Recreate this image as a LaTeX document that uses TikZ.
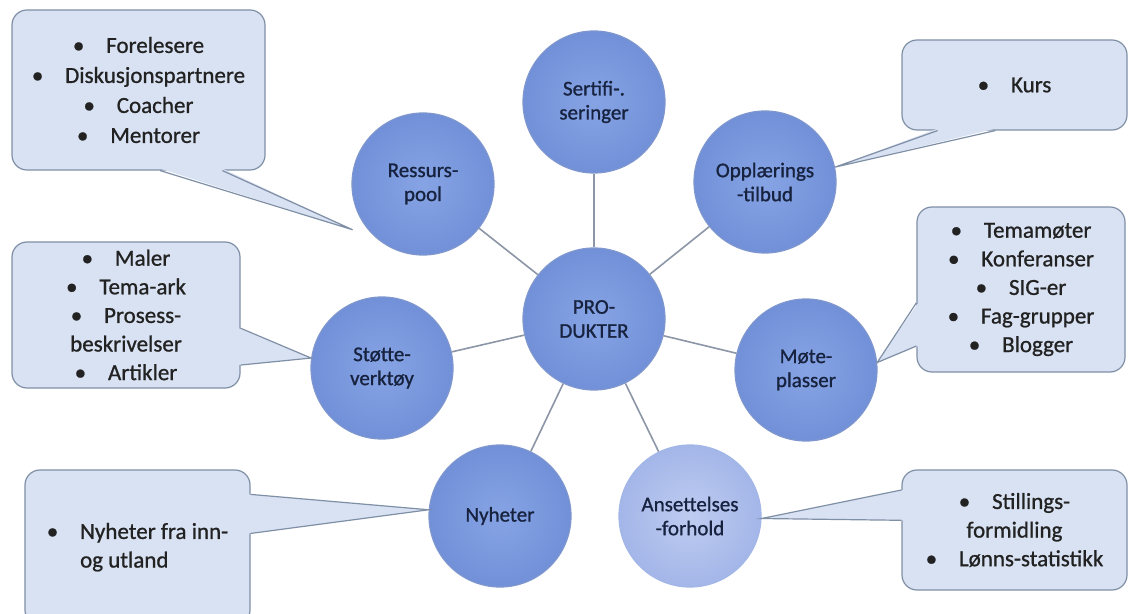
\documentclass[tikz,border=0pt]{standalone}
\usepackage{fontspec}
\setmainfont{Carlito}[FakeBold=0.9]
\usetikzlibrary{calc}
\definecolor{ballin}{HTML}{86A4E4}
\definecolor{ballout}{HTML}{7190D8}
\definecolor{ballline}{HTML}{7F97CE}
\definecolor{paleout}{HTML}{A3B6E8}
\definecolor{palein}{HTML}{BFCCF1}
\definecolor{bubble}{HTML}{D9E2F3}
\definecolor{bubbleline}{HTML}{7F8FA6}
\definecolor{spoke}{HTML}{8C96A6}
\definecolor{navy}{HTML}{17223F}
\definecolor{bodytext}{HTML}{222222}
\newcommand{\bul}{\textbullet\hspace{0.95em}}
\begin{document}
\begin{tikzpicture}[x=0.5pt, y=-0.5pt,
    topic/.style={circle, minimum size=71pt, inner sep=0pt, align=center,
      font=\fontsize{10.5}{12}\selectfont, text=navy, draw=ballline,
      line width=0.6pt, inner color=ballin, outer color=ballout},
    paletopic/.style={topic, draw=paleout, inner color=palein, outer color=paleout},
    bubblebox/.style={rectangle, rounded corners=7.5pt, inner sep=0pt, align=center,
      fill=bubble, draw=bubbleline, line width=0.6pt, text=bodytext,
      font=\fontsize{11.5}{14.3}\selectfont},
    pointer/.style={draw=bubbleline, line width=0.6pt, line join=miter},
    spokeline/.style={draw=spoke, line width=0.8pt}]
  \clip (0,0) rectangle (1128,614);
  \fill[white] (0,0) rectangle (1128,614);

  \node[topic] (prod) at (594,319) {PRO-\\DUKTER};
  \node[topic] (sert) at (594,102) {Sertifi-.\\seringer};
  \node[topic] (ressurs) at (423,184) {Ressurs-\\pool};
  \node[topic] (oppl) at (765,182) {Opplærings\\-tilbud};
  \node[topic] (mote) at (806,370) {Møte-\\plasser};
  \node[paletopic] (ansett) at (690,516) {Ansettelses\\-forhold};
  \node[topic] (nyhet) at (500,516) {Nyheter};
  \node[topic] (stotte) at (382,368) {Støtte-\\verktøy};

  \foreach \t in {sert,ressurs,oppl,mote,ansett,nyhet,stotte}
    \draw[spokeline] (prod) -- (\t);

  \node[bubblebox, minimum width=126.5pt, minimum height=80pt,
    font=\fontsize{11.5}{15}\selectfont] (poolbox) at (138.5,90)
    {\bul Forelesere\\\bul Diskusjonspartnere\\\bul Coacher\\\bul Mentorer};
  \node[bubblebox, minimum width=112.5pt, minimum height=45pt] (kursbox) at (1014.5,85)
    {\bul Kurs};
  \node[bubblebox, minimum width=104pt, minimum height=82.5pt] (motebox) at (1021,289.5)
    {\bul Temamøter\\\bul Konferanser\\\bul SIG-er\\\bul Fag-grupper\\\bul Blogger};
  \node[bubblebox, minimum width=114pt, minimum height=73pt] (stottebox) at (126,315)
    {\bul Maler\\\bul Tema-ark\\\bul Prosess-\\beskrivelser\\\bul Artikler};
  \node[bubblebox, minimum width=112.5pt, minimum height=77.5pt] (nyhetbox) at (137.5,547.5)
    {\begin{tabular}{@{}l@{\hspace{0.95em}}l@{}}\textbullet & Nyheter fra inn-\\ & og utland\end{tabular}};
  \node[bubblebox, minimum width=112.5pt, minimum height=60pt] (ansbox) at (1014.5,530)
    {\bul Stillings-\\formidling\\\bul Lønns-statistikk};

  % pointers
  \coordinate (pa) at ($(poolbox.south west)!0.585!(poolbox.south east)$);
  \coordinate (pb) at ($(poolbox.south west)!0.83!(poolbox.south east)$);
  \coordinate (pt) at ($(ressurs.center)+(213:42pt)$);
  \fill[bubble] ($(pa)+(0,1pt)$) -- (pt) -- ($(pb)+(0,1pt)$) -- cycle;
  \draw[pointer] (pa) -- (pt) -- (pb);

  \coordinate (ka) at ($(kursbox.south west)!0.16!(kursbox.south east)$);
  \coordinate (kb) at ($(kursbox.south west)!0.415!(kursbox.south east)$);
  \fill[bubble] ($(ka)+(0,1pt)$) -- (oppl.12) -- ($(kb)+(0,1pt)$) -- cycle;
  \draw[pointer] (ka) -- (oppl.12) -- (kb);

  \coordinate (ma) at ($(motebox.north west)!0.58!(motebox.south west)$);
  \coordinate (mb) at ($(motebox.north west)!0.84!(motebox.south west)$);
  \fill[bubble] ($(ma)+(1pt,0)$) -- (mote.6) -- ($(mb)+(1pt,0)$) -- cycle;
  \draw[pointer] (ma) -- (mote.6) -- (mb);

  \coordinate (sa) at ($(stottebox.north east)!0.59!(stottebox.south east)$);
  \coordinate (sb) at ($(stottebox.north east)!0.84!(stottebox.south east)$);
  \fill[bubble] ($(sa)+(-1pt,0)$) -- (stotte.172) -- ($(sb)+(-1pt,0)$) -- cycle;
  \draw[pointer] (sa) -- (stotte.172) -- (sb);

  \coordinate (na) at ($(nyhetbox.north east)!0.16!(nyhetbox.south east)$);
  \coordinate (nb) at ($(nyhetbox.north east)!0.41!(nyhetbox.south east)$);
  \fill[bubble] ($(na)+(-1pt,0)$) -- (nyhet.175) -- ($(nb)+(-1pt,0)$) -- cycle;
  \draw[pointer] (na) -- (nyhet.175) -- (nb);

  \coordinate (aa) at ($(ansbox.north west)!0.17!(ansbox.south west)$);
  \coordinate (ab) at ($(ansbox.north west)!0.42!(ansbox.south west)$);
  \fill[bubble] ($(aa)+(1pt,0)$) -- (ansett.-2) -- ($(ab)+(1pt,0)$) -- cycle;
  \draw[pointer] (aa) -- (ansett.-2) -- (ab);
\end{tikzpicture}
\end{document}
